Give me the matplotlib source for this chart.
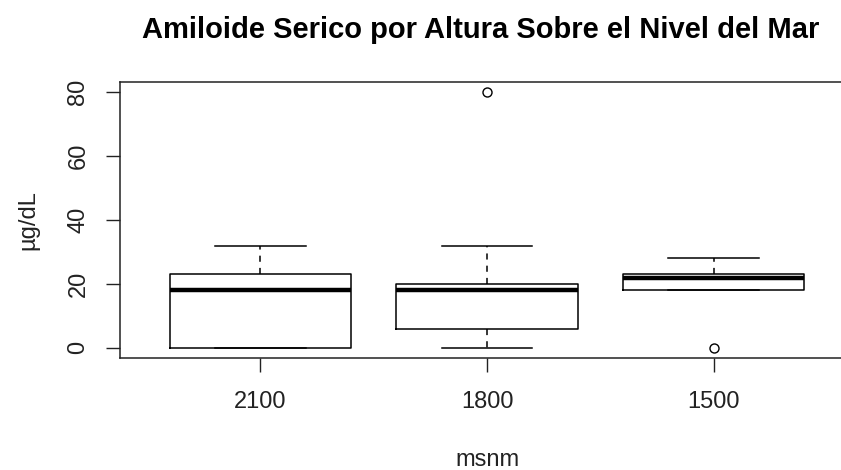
import matplotlib.pyplot as plt

plt.rcParams["font.family"] = ["Liberation Sans", "DejaVu Sans"]

# box summaries, one entry per altitude
altitudes = ["2100", "1800", "1500"]
whisker_low = [0, 0, 18]
q1 = [0, 6, 18]
medians = [18, 18, 22]
q3 = [23, 20, 23]
whisker_high = [32, 32, 28]
outliers = [[], [80], [0]]

stats = []
for i, name in enumerate(altitudes):
    stats.append({
        "label": name,
        "whislo": whisker_low[i],
        "q1": q1[i],
        "med": medians[i],
        "q3": q3[i],
        "whishi": whisker_high[i],
        "fliers": outliers[i],
    })

fig = plt.figure(figsize=(8.41, 4.70), dpi=100)
# the original is cropped on the right, so the box runs past the edge
ax = fig.add_axes([120 / 841, 1 - 358 / 470, 734 / 841, 276 / 470])

ax.bxp(
    stats,
    positions=[1, 2, 3],
    widths=0.8,
    capwidths=0.4,
    boxprops=dict(color="black", linewidth=1.1),
    medianprops=dict(color="black", linewidth=3.2, solid_capstyle="butt"),
    whiskerprops=dict(color="black", linewidth=1.1, linestyle=(0, (4, 4))),
    capprops=dict(color="black", linewidth=1.1),
    flierprops=dict(marker="o", markersize=6.5, markerfacecolor="none",
                    markeredgecolor="black", markeredgewidth=1.0),
)

ax.set_xlim(0.38, 3.62)
ax.set_ylim(-3.2, 83.2)
ax.set_yticks([0, 20, 40, 60, 80])
ax.set_xticks([1, 2, 3])
ax.set_xticklabels(altitudes)

for s in ax.spines.values():
    s.set_linewidth(1.1)
    s.set_color("#222222")

ax.tick_params(axis="both", length=10, width=1.0, color="#222222",
               labelsize=17, labelcolor="#222222")
ax.tick_params(axis="x", pad=14)
ax.tick_params(axis="y", pad=12)
for lab in ax.get_yticklabels():
    lab.set_rotation(90)
    lab.set_va("center")

ax.set_xlabel("msnm", fontsize=17, color="#222222")
ax.xaxis.set_label_coords(0.5, -0.37)
ax.xaxis.label.set_va("center")
ax.set_ylabel("µg/dL", fontsize=17, color="#222222")
ax.yaxis.set_label_coords(-0.125, 0.5)
ax.yaxis.label.set_va("center")

fig.text(481 / 841, 1 - 30 / 470, "Amiloide Serico por Altura Sobre el Nivel del Mar",
         ha="center", va="center", fontsize=21, fontweight="bold")

fig.savefig("out.png", dpi=100)
